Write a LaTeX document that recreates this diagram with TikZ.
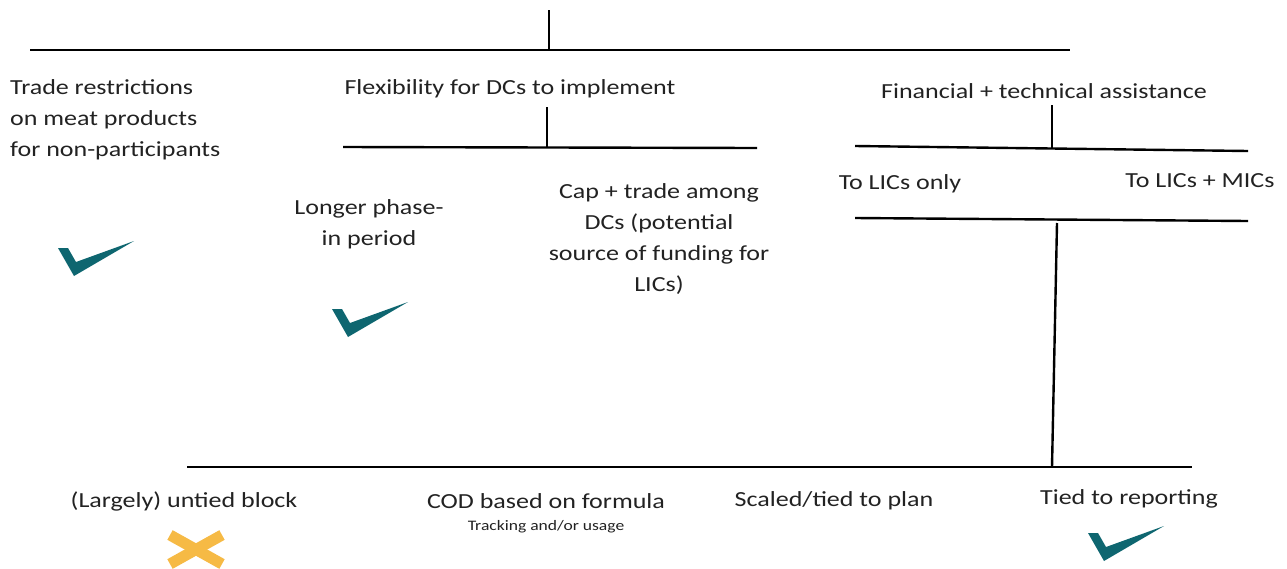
\documentclass[tikz,border=0pt]{standalone}
\usepackage{fontspec}
\setmainfont{Carlito}[FakeStretch=1.21]
\definecolor{teal}{HTML}{0E6670}
\definecolor{crossy}{HTML}{F6BA45}
\definecolor{txtc}{HTML}{222222}
\begin{document}
\begin{tikzpicture}[x=1pt,y=-1pt,
  txt/.style={inner sep=0pt,text=txtc,font=\fontsize{21.5}{31}\selectfont},
  small/.style={inner sep=0pt,text=txtc,font=\fontsize{14.5}{17}\selectfont},
  bar/.style={line width=2.4pt,black},
  checkmk/.style={fill=teal,draw=none},
  crossarm/.style={line width=11pt,crossy}]
\useasboundingbox (0,0) rectangle (1287,568);
% coordinates
\coordinate (t0) at (549,10);
\coordinate (t1) at (549,50);
\coordinate (hL) at (30,50);
\coordinate (hR) at (1070,50);
\coordinate (f0) at (547,107);
\coordinate (f1) at (547,147);
\coordinate (fL) at (343,147);
\coordinate (fR) at (757,148);
\coordinate (a0) at (1052,105);
\coordinate (a1) at (1052,147.5);
\coordinate (aL) at (855,146);
\coordinate (aR) at (1248,151);
\coordinate (bL) at (855,218);
\coordinate (bR) at (1248,221);
\coordinate (v0) at (1057,223);
\coordinate (v1) at (1052,467);
\coordinate (gL) at (187,467);
\coordinate (gR) at (1192,467);
% lines
\draw[bar] (t0) -- (t1);
\draw[bar] (hL) -- (hR);
\draw[bar] (f0) -- (f1);
\draw[bar] (fL) -- (fR);
\draw[bar] (a0) -- (a1);
\draw[bar] (aL) -- (aR);
\draw[bar] (bL) -- (bR);
\draw[bar] (v0) -- (v1);
\draw[bar] (gL) -- (gR);
% texts
\node[txt,align=left,anchor=west] (trade) at (10,120) {Trade restrictions\\on meat products\\for non-participants};
\node[txt] (flex) at (510,89) {Flexibility for DCs to implement};
\node[txt] (fin) at (1044,91) {Financial + technical assistance};
\node[txt,align=center] (longer) at (369,224) {Longer phase-\\in period};
\node[txt,align=center] (cap) at (659,239) {Cap + trade among\\DCs (potential\\source of funding for\\LICs)};
\node[txt] (lics) at (900,184) {To LICs only};
\node[txt] (licsmics) at (1200,181) {To LICs + MICs};
\node[txt] (untied) at (184,501) {(Largely) untied block};
\node[txt] (cod) at (546,501) {COD based on formula};
\node[small] (track) at (546,527) {Tracking and/or usage};
\node[txt] (scaled) at (834,501) {Scaled/tied to plan};
\node[txt] (tied) at (1129,499) {Tied to reporting};
% check marks
\foreach \cx/\cy in {76/262, 350/323, 1106/547}{
  \fill[checkmk] (\cx-18,\cy-14) -- (\cx-8,\cy-14) -- (\cx,\cy) -- (\cx+58,\cy-21) -- (\cx-2,\cy+14) -- cycle;
}
% cross
\draw[crossarm] (170,535) -- (222,564);
\draw[crossarm] (170,564) -- (222,535);
\end{tikzpicture}
\end{document}
